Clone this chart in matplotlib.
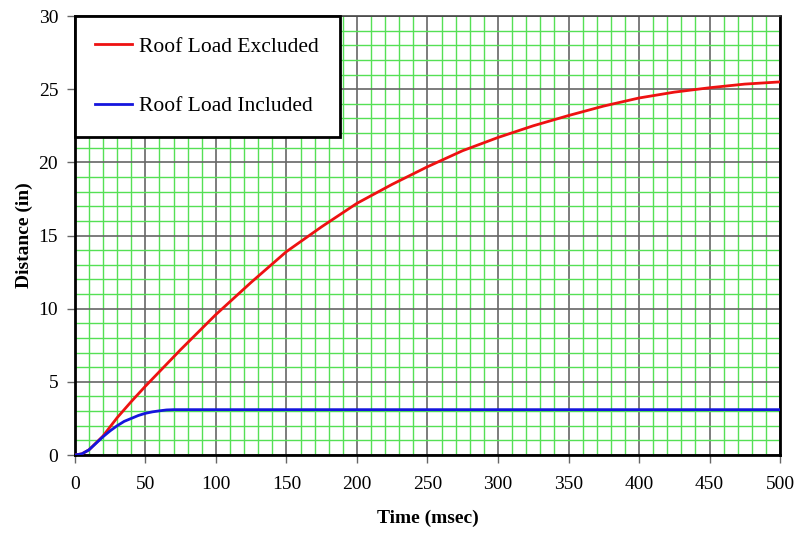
import matplotlib
matplotlib.use("Agg")
from matplotlib import pyplot as plt
from matplotlib.ticker import MultipleLocator

plt.rcParams['font.family'] = ['Liberation Serif', 'DejaVu Serif']

# red curve: roof load excluded
timeExcl = [0, 5, 10, 20, 30, 40, 50, 75, 100, 125, 150, 175, 200, 225, 250,
            275, 300, 325, 350, 375, 400, 425, 450, 475, 500]
distExcl = [0, 0.08, 0.35, 1.3, 2.55, 3.65, 4.7, 7.2, 9.6, 11.8, 13.9, 15.6, 17.2,
            18.5, 19.7, 20.8, 21.7, 22.5, 23.2, 23.85, 24.4, 24.8, 25.1, 25.35, 25.5]

# blue curve: roof load included
timeIncl = [0, 5, 10, 15, 20, 25, 30, 35, 40, 45, 50, 55, 60, 65, 70, 100, 200, 300, 400, 500]
distIncl = [0, 0.08, 0.35, 0.8, 1.25, 1.65, 2.0, 2.3, 2.5, 2.7, 2.85, 2.95, 3.02, 3.08, 3.1,
            3.1, 3.1, 3.1, 3.1, 3.1]

fig = plt.figure(figsize=(7.96, 5.35), dpi=100)
ax = fig.add_axes([0.094, 0.1495, 0.886, 0.8205])

ax.plot(timeExcl, distExcl, color='#ee1111', lw=2, label='Roof Load Excluded', zorder=3)
ax.plot(timeIncl, distIncl, color='#1515dd', lw=2, label='Roof Load Included', zorder=3)

ax.set_xlim(0, 500)
ax.set_ylim(0, 30)
ax.xaxis.set_major_locator(MultipleLocator(50))
ax.xaxis.set_minor_locator(MultipleLocator(10))
ax.yaxis.set_major_locator(MultipleLocator(5))
ax.yaxis.set_minor_locator(MultipleLocator(1))
ax.grid(which='minor', color='#55e055', lw=1)
ax.grid(which='major', color='#666666', lw=1.2)
ax.set_axisbelow(True)
ax.tick_params(which='minor', length=0)
ax.tick_params(which='major', length=6, width=1, color='#666666', labelsize=14, pad=6)
ax.tick_params(axis='x', which='major', pad=9)

for side in ['left', 'bottom', 'right']:
    ax.spines[side].set_linewidth(2)
    ax.spines[side].set_color('black')
ax.spines['top'].set_linewidth(1.2)
ax.spines['top'].set_color('#444444')

ax.set_xlabel('Time (msec)', fontsize=14, fontweight='bold', labelpad=12)
ax.set_ylabel('Distance (in)', fontsize=14, fontweight='bold', labelpad=4)

leg = ax.legend(loc='upper left', bbox_to_anchor=(0, 1), borderaxespad=0, fontsize=15.5,
                fancybox=False, framealpha=1, edgecolor='black', handlelength=1.7,
                labelspacing=1.85, borderpad=0.95, handletextpad=0.35)
leg.get_frame().set_linewidth(2)

fig.savefig('out.png', dpi=100)
